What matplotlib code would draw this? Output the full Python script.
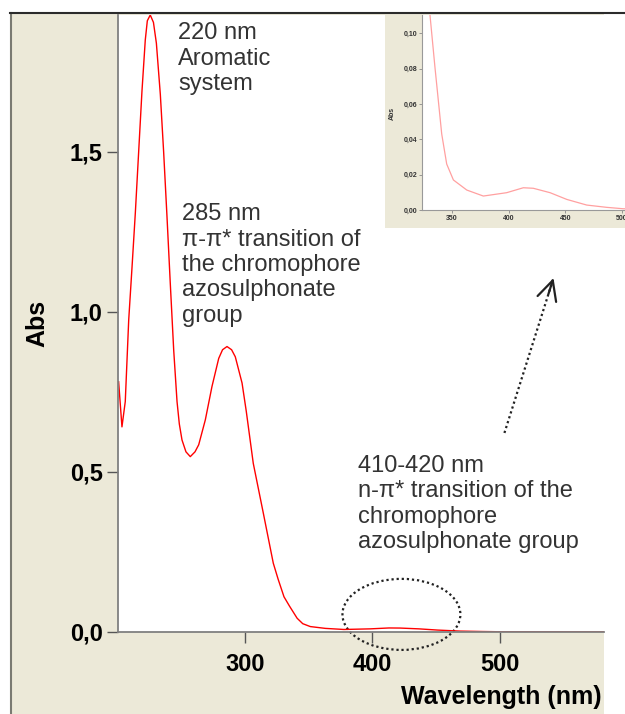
import matplotlib.pyplot as plt
from matplotlib.patches import Rectangle, Ellipse

plt.rcParams['font.family'] = ['Liberation Sans', 'DejaVu Sans']

# UV-Vis spectrum (nm, Abs)
wavelength = [200.9, 203.5, 206.1, 208.8, 211.4, 214.0, 216.6, 219.2, 221.8, 223.4,
              225.7, 228.2, 230.5, 233.6, 236.2, 238.8, 241.4, 244.1, 246.7, 248.5,
              250.6, 253.7, 257.1, 260.8, 263.7, 268.9, 274.1, 279.4, 282.4, 285.9,
              289.5, 292.4, 297.7, 301.0, 306.5, 314.4, 322.2, 326.0, 330.6, 334.9,
              337.9, 340.9, 345.3, 351.2, 363.0, 377.6, 398.2, 412.9, 421.7, 436.5,
              451.2, 468.8, 486.5, 501.2, 540.0, 582.0]
absorbance = [0.782, 0.641, 0.720, 0.975, 1.140, 1.310, 1.500, 1.690, 1.850, 1.910,
              1.928, 1.905, 1.840, 1.680, 1.500, 1.300, 1.090, 0.880, 0.720, 0.650,
              0.600, 0.563, 0.548, 0.563, 0.585, 0.663, 0.767, 0.855, 0.882, 0.892,
              0.882, 0.860, 0.778, 0.690, 0.527, 0.371, 0.215, 0.165, 0.110, 0.081,
              0.062, 0.043, 0.026, 0.017, 0.0113, 0.0079, 0.0098, 0.0126, 0.0123, 0.0098,
              0.0060, 0.0028, 0.0015, 0.0007, 0.0004, 0.0003]

main_xticks = [300, 400, 500]
main_yticks = [0.0, 0.5, 1.0, 1.5]
main_yticklabels = ['0,0', '0,5', '1,0', '1,5']
inset_xticks = [350, 400, 450, 500]
inset_yticks = [0.00, 0.02, 0.04, 0.06, 0.08, 0.10]
inset_yticklabels = ['0,00', '0,02', '0,04', '0,06', '0,08', '0,10']

note_aromatic = '220 nm\nAromatic\nsystem'
note_pi = '285 nm\nπ-π* transition of\nthe chromophore\nazosulphonate\ngroup'
note_n = '410-420 nm\nn-π* transition of the\nchromophore\nazosulphonate group'

W, H = 625, 714
beige = '#ECE9D8'
textc = '#333333'


def fx(px):
    return px / W


def fy(py):
    return 1 - py / H


fig = plt.figure(figsize=(W / 100, H / 100), dpi=100)

# outer beige panel of the software window
fig.patches.append(Rectangle((fx(10), 0), fx(604) - fx(10), fy(13), transform=fig.transFigure,
                             facecolor=beige, edgecolor='none', zorder=-5))
fig.add_artist(plt.Line2D([fx(11), fx(11)], [0, fy(13)], color='#7a7a72', lw=1.5, zorder=-4))
fig.add_artist(plt.Line2D([fx(10), 1], [fy(13), fy(13)], color='#2b2b2b', lw=1.5, zorder=-4))

# main plot
ax = fig.add_axes([fx(118), fy(632), (604 - 118) / W, (632 - 15) / H])
ax.plot(wavelength, absorbance, color='#ff0000', lw=1.0)
ax.set_xlim(200.4, 581.6)
ax.set_ylim(0, 1.928)
ax.set_xticks(main_xticks)
ax.set_xticklabels([str(t) for t in main_xticks])
ax.set_yticks(main_yticks)
ax.set_yticklabels(main_yticklabels)
for s in ['top', 'right']:
    ax.spines[s].set_visible(False)
for s in ['left', 'bottom']:
    ax.spines[s].set_color('#808080')
    ax.spines[s].set_linewidth(1.3)
ax.tick_params(axis='both', length=8, width=1, color='#555555', labelsize=17)
ax.tick_params(axis='x', pad=7)
ax.tick_params(axis='y', pad=3)
for lab in ax.get_xticklabels() + ax.get_yticklabels():
    lab.set_fontweight('bold')

fig.text(fx(37), fy(323), 'Abs', rotation=90, ha='center', va='center',
         fontsize=18, fontweight='bold')
fig.text(fx(602), fy(697), 'Wavelength (nm)', ha='right', va='center',
         fontsize=18, fontweight='bold')

# annotations
ax.text(247.5, 1.905, note_aromatic, ha='left', va='top', fontsize=17,
        color=textc, linespacing=1.2)
ax.text(250.6, 1.340, note_pi, ha='left', va='top', fontsize=17,
        color=textc, linespacing=1.2)
ax.text(388.6, 0.553, note_n, ha='left', va='top', fontsize=17,
        color=textc, linespacing=1.2)

ax.add_patch(Ellipse((422.7, 0.055), 92.5, 0.222, fill=False, ls=(0, (1, 1.3)),
                     lw=1.6, edgecolor='#222222', clip_on=False))
arrow_start = (503.5, 0.622)
arrow_end = (542.0, 1.106)
ax.plot([arrow_start[0], arrow_end[0]], [arrow_start[1], arrow_end[1]],
        ls=(0, (1, 1.3)), lw=1.6, color='#222222')
ax.annotate('', xy=arrow_end, xytext=(538.0, 1.056),
            arrowprops=dict(arrowstyle='->,head_length=0.5,head_width=0.25', lw=1.6,
                            color='#222222', mutation_scale=28, shrinkA=0, shrinkB=0))

# zoomed inset of the 330-500 nm region
fig.patches.append(Rectangle((fx(385), fy(228)), fx(625) - fx(385), fy(15) - fy(228),
                             transform=fig.transFigure, facecolor=beige,
                             edgecolor='none', zorder=1))
axi = fig.add_axes([fx(422), fy(210), (630 - 422) / W, (210 - 15) / H], zorder=2)
axi.plot(wavelength, absorbance, color='#ffa0a0', lw=0.9)
axi.set_xlim(323.5, 507)
axi.set_ylim(0, 0.1104)
axi.set_xticks(inset_xticks)
axi.set_xticklabels([str(t) for t in inset_xticks])
axi.set_yticks(inset_yticks)
axi.set_yticklabels(inset_yticklabels)
for s in ['top', 'right']:
    axi.spines[s].set_visible(False)
for s in ['left', 'bottom']:
    axi.spines[s].set_color('#999999')
    axi.spines[s].set_linewidth(0.8)
axi.tick_params(axis='both', length=2, width=0.6, color='#888888', labelsize=5,
                labelcolor=textc, pad=1.5)
for lab in axi.get_xticklabels() + axi.get_yticklabels():
    lab.set_fontweight('bold')
fig.text(fx(392), fy(113), 'Abs', rotation=90, ha='center', va='center',
         fontsize=5, fontweight='bold', color=textc, zorder=3)

fig.savefig('out.png', dpi=100)
